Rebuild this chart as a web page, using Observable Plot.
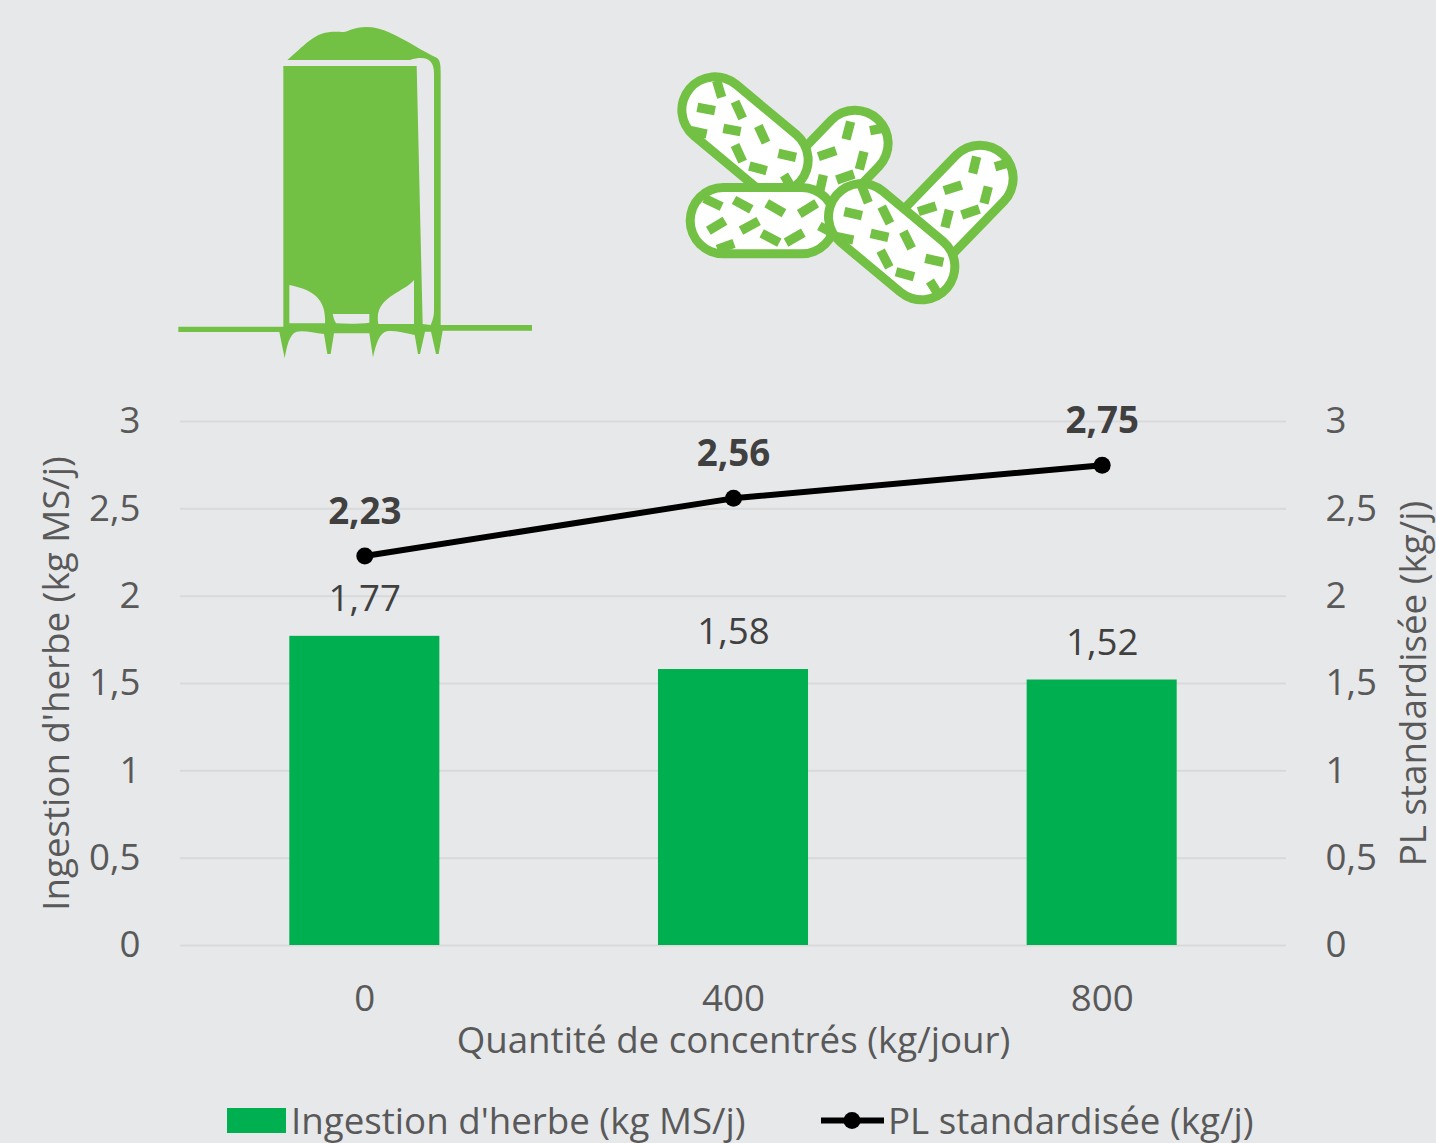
<!DOCTYPE html>
<html lang="fr">
<head>
<meta charset="utf-8">
<script src="https://cdn.jsdelivr.net/npm/d3@7"></script>
<script src="https://cdn.jsdelivr.net/npm/@observablehq/plot@0.6"></script>
<style>
  html, body { margin: 0; padding: 0; background: #e7e8ea; }
  body { width: 1436px; height: 1143px; position: relative; overflow: hidden; font-family: "Open Sans", sans-serif; }
  #chart { position: absolute; left: 0; top: 0; }
  #icons { position: absolute; left: 0; top: 0; }
  #legend { position: absolute; left: 0; top: 1090px; width: 1436px; height: 53px; color: #595959; font-size: 36.7px; }
  #legend span { position: absolute; white-space: nowrap; line-height: 60px; top: 0; }
  #legend svg { position: absolute; top: 0; left: 0; }
</style>
</head>
<body>
<div id="chart"></div>
<svg id="icons" width="1436" height="400" viewBox="0 0 1436 400">
  <g transform="translate(170,10) scale(0.33333)">
    <path fill="#72c044" fill-rule="evenodd" d="M352,150 C400,110 430,70 480,66 C510,64 520,70 540,60 C580,45 620,50 660,68 C710,90 760,125 800,143 C812,150 812,170 812,190 L812,945 L1086,945 L1086,962 L818,962 L806,1032 L798,1032 L783,965 L765,965 L750,1032 L744,1032 L734,975 C700,968 670,960 650,964 C630,968 618,1000 609,1042 L598,970 L492,970 L482,1032 L472,1032 L462,972 C430,968 400,960 380,965 C358,972 350,1010 344,1045 L328,966 L25,966 L25,950 L340,950 L340,168 L740,168 L758,942 L782,945 C788,930 792,920 792,900 L792,190 C792,150 770,135 720,150 Z
    M358,825 C420,838 470,860 465,940 L358,940 Z
    M732,810 C700,850 610,860 625,942 L732,942 Z
    M488,912 L598,912 L598,938 C570,942 530,942 498,940 C492,930 490,920 488,912 Z"/>
  </g>
  <g transform="translate(660,60) scale(0.33333)" fill="none" stroke-linecap="butt">
    <path d="M585,250 L460,380" stroke="#72c044" stroke-width="226" stroke-linecap="round"/>
    <path d="M585,250 L460,380" stroke="#fff" stroke-width="172" stroke-linecap="round"/>
    <path stroke="#72c044" stroke-width="28" d="M572,185L558,238M630,212L668,205M475,290L528,272M612,275L598,328M490,345L480,390M530,360L582,342"/>
    <path d="M960,355 L790,530" stroke="#72c044" stroke-width="226" stroke-linecap="round"/>
    <path d="M960,355 L790,530" stroke="#fff" stroke-width="172" stroke-linecap="round"/>
    <path stroke="#72c044" stroke-width="28" d="M950,290L938,340M1005,320L1042,310M852,392L905,375M985,380L972,430M775,455L828,438M868,450L855,502M905,465L958,447"/>
    <path d="M165,150 L345,300" stroke="#72c044" stroke-width="226" stroke-linecap="round"/>
    <path d="M165,150 L345,300" stroke="#fff" stroke-width="172" stroke-linecap="round"/>
    <path stroke="#72c044" stroke-width="28" d="M170,62L185,112M112,142L165,152M225,125L248,175M190,205L242,215M295,198L318,248M225,255L248,305M355,280L408,292M268,318L320,332M372,345L390,375M92,212L140,222"/>
    <path d="M190,482 L425,482" stroke="#72c044" stroke-width="226" stroke-linecap="round"/>
    <path d="M190,482 L425,482" stroke="#fff" stroke-width="172" stroke-linecap="round"/>
    <path stroke="#72c044" stroke-width="28" d="M133,415L185,440M222,420L274,448M320,430L372,460M418,462L470,430M145,512L195,482M243,512L296,483M305,520L358,548M378,548L430,518M478,498L510,515M172,568L222,550"/>
    <path d="M605,470 L785,620" stroke="#72c044" stroke-width="226" stroke-linecap="round"/>
    <path d="M605,470 L785,620" stroke="#fff" stroke-width="172" stroke-linecap="round"/>
    <path stroke="#72c044" stroke-width="28" d="M605,378L625,428M553,455L606,467M665,440L690,490M632,520L685,532M730,515L755,565M662,572L688,622M796,595L850,607M708,635L762,650M810,663L830,695M530,530L580,540"/>
  </g>
</svg>
<div id="legend">
  <svg width="1436" height="53">
    <rect x="227" y="18" width="59" height="25" fill="#00b050"/>
    <line x1="821" x2="884" y1="30.5" y2="30.5" stroke="#000" stroke-width="6"/>
    <circle cx="852" cy="30.5" r="8.5" fill="#000"/>
  </svg>
  <span style="left:291px">Ingestion d'herbe (kg MS/j)</span>
  <span style="left:888px">PL standardisée (kg/j)</span>
</div>
<script>
const categories = ["0", "400", "800"];
const ingestion = [1.77, 1.58, 1.52];
const production = [2.23, 2.56, 2.75];
const gridTicks = [0, 0.5, 1, 1.5, 2, 2.5, 3];

const barRows = categories.map((c, i) => ({c, v: ingestion[i]}));
const lineRows = categories.map((c, i) => ({c, v: production[i]}));
const comma = d => String(d).replace(".", ",");

const plot = Plot.plot({
  width: 1436,
  height: 1090,
  marginLeft: 180,
  marginRight: 150,
  marginTop: 421,
  marginBottom: 145,
  style: {background: "transparent", fontFamily: "'Open Sans', sans-serif", fontSize: "36.7px", color: "#595959", overflow: "visible"},
  x: {domain: categories, paddingInner: 0.593, paddingOuter: 0.2965, align: 0.5, round: false},
  y: {domain: [0, 3], ticks: gridTicks},
  marks: [
    Plot.ruleY(gridTicks, {stroke: "#d9d9d9", strokeWidth: 2, strokeOpacity: 1}),
    Plot.axisY(gridTicks, {anchor: "left", tickSize: 0, tickPadding: 40, tickFormat: comma, label: "Ingestion d'herbe (kg MS/j)", labelAnchor: "center", labelArrow: "none", labelOffset: 138, fill: "#595959"}),
    Plot.axisY(gridTicks, {anchor: "right", tickSize: 0, tickPadding: 39, tickFormat: comma, label: "PL standardisée (kg/j)", labelAnchor: "center", labelArrow: "none", labelOffset: 139, fill: "#595959", textAnchor: "start"}),
    Plot.axisX({tickSize: 0, tickPadding: 39, label: "Quantité de concentrés (kg/jour)", labelAnchor: "center", labelArrow: "none", labelOffset: 107, fill: "#595959"}),
    Plot.barY(barRows, {x: "c", y: "v", fill: "#00b050"}),
    Plot.line(lineRows, {x: "c", y: "v", stroke: "#000", strokeWidth: 6}),
    Plot.dot(lineRows, {x: "c", y: "v", r: 8.5, fill: "#000"}),
    Plot.text(barRows, {x: "c", y: "v", text: d => comma(d.v), dy: -37, fill: "#404040"}),
    Plot.text(lineRows, {x: "c", y: "v", text: d => comma(d.v), dy: -44, fill: "#404040", fontWeight: 700})
  ]
});
document.getElementById("chart").appendChild(plot);
</script>
</body>
</html>
